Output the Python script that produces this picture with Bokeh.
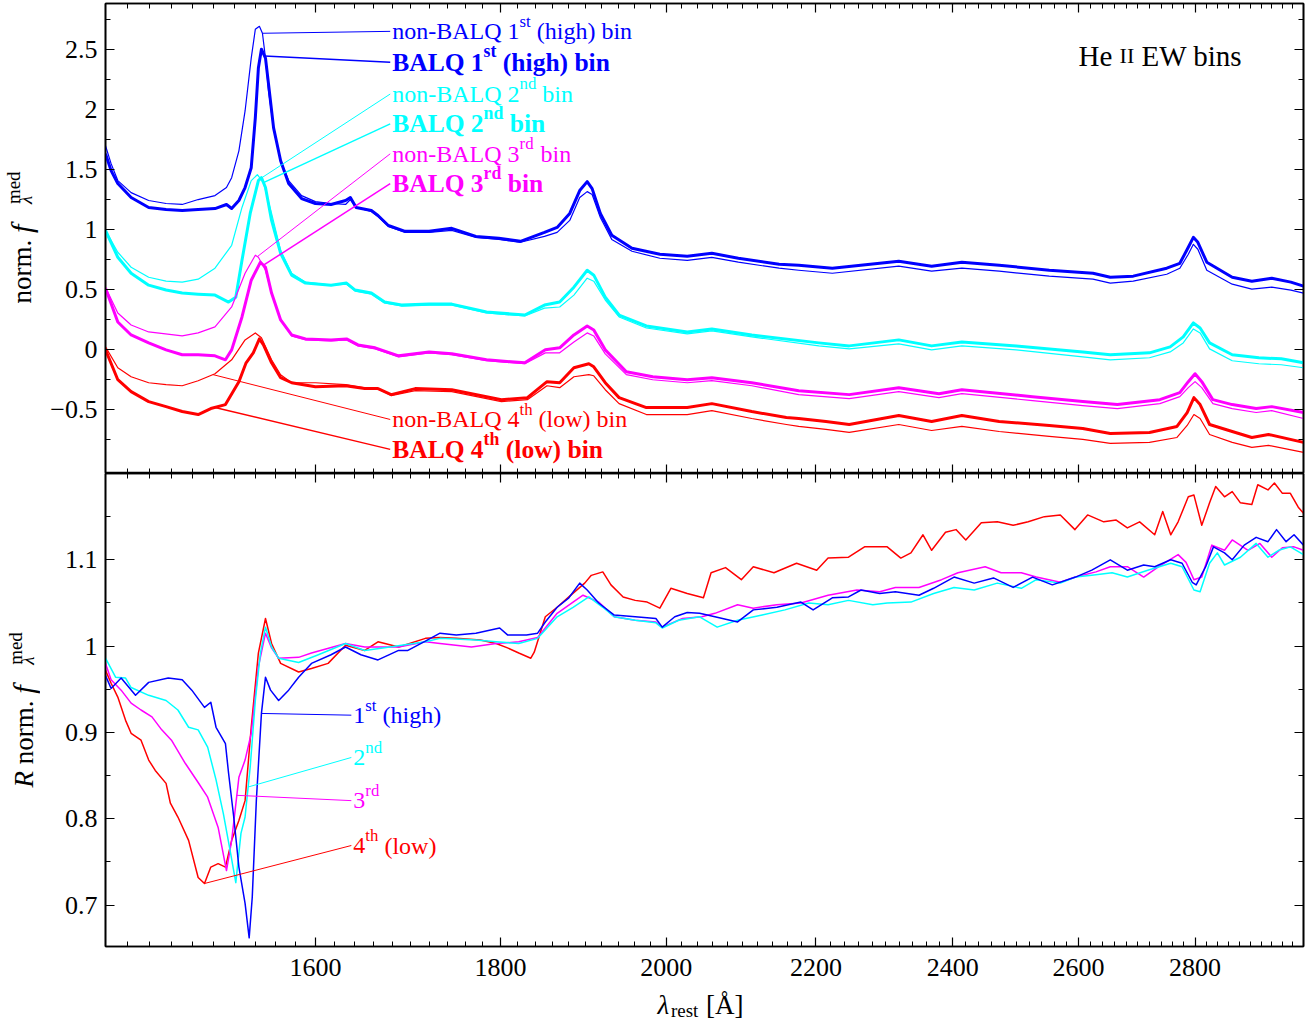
import math
import numpy as np
from bokeh.plotting import figure
from bokeh.models import Range1d, FixedTicker, LinearAxis, LogAxis, Label
from bokeh.layouts import column, row
from bokeh.embed import file_html
from bokeh.resources import INLINE

# ---------------------------------------------------------------------------
# Median composite spectra in four He II EW bins (upper panel, offset for
# clarity) and BALQ / non-BALQ ratio spectra (lower panel).
# ---------------------------------------------------------------------------

# upper panel: 1st (high) bin
wave_nb1 = [1400, 1405, 1411, 1423, 1439, 1455, 1470, 1476, 1485, 1501, 1512, 1517, 1524, 1530, 1536,
            1540, 1544, 1547, 1550, 1553, 1558, 1565, 1573, 1586, 1600, 1616, 1631, 1636, 1642, 1658,
            1665, 1676, 1694, 1720, 1745, 1772, 1798, 1823, 1851, 1866, 1881, 1893, 1902, 1908, 1918,
            1932, 1957, 1992, 2027, 2059, 2094, 2149, 2176, 2223, 2319, 2368, 2414, 2472, 2552, 2624,
            2653, 2692, 2750, 2773, 2788, 2797, 2805, 2821, 2867, 2903, 2940, 2976, 3000]
flux_nb1 = [1.700, 1.551, 1.410, 1.310, 1.244, 1.219, 1.211, 1.227, 1.252, 1.285, 1.352, 1.434, 1.658, 1.990, 2.430,
            2.670, 2.695, 2.637, 2.430, 2.156, 1.849, 1.575, 1.410, 1.285, 1.235, 1.219, 1.211, 1.252, 1.186, 1.153,
            1.111, 1.028, 0.978, 0.978, 0.995, 0.937, 0.920, 0.896, 0.945, 0.978, 1.078, 1.269, 1.318, 1.294, 1.103,
            0.920, 0.821, 0.763, 0.746, 0.771, 0.730, 0.680, 0.663, 0.638, 0.697, 0.655, 0.680, 0.655, 0.614, 0.589,
            0.556, 0.572, 0.630, 0.680, 0.796, 0.879, 0.838, 0.663, 0.547, 0.506, 0.522, 0.498, 0.473]
wave_b1 = [1400, 1405, 1411, 1423, 1439, 1455, 1470, 1485, 1501, 1512, 1517, 1524, 1530, 1536, 1540,
           1543, 1546, 1550, 1553, 1558, 1565, 1573, 1586, 1600, 1616, 1631, 1636, 1642, 1658, 1665,
           1676, 1694, 1720, 1745, 1772, 1798, 1823, 1851, 1866, 1881, 1893, 1902, 1908, 1918, 1932,
           1957, 1992, 2027, 2059, 2094, 2149, 2176, 2223, 2319, 2368, 2414, 2472, 2552, 2624, 2653,
           2692, 2750, 2773, 2788, 2797, 2805, 2821, 2867, 2903, 2940, 2976, 3000]
flux_b1 = [1.633, 1.493, 1.385, 1.269, 1.186, 1.169, 1.161, 1.169, 1.177, 1.211, 1.177, 1.244, 1.352, 1.517, 1.932,
           2.347, 2.504, 2.430, 2.214, 1.849, 1.575, 1.385, 1.260, 1.219, 1.211, 1.244, 1.269, 1.186, 1.161, 1.119,
           1.036, 0.987, 0.987, 1.012, 0.945, 0.929, 0.904, 0.978, 1.020, 1.136, 1.327, 1.401, 1.343, 1.136, 0.954,
           0.846, 0.796, 0.779, 0.804, 0.763, 0.713, 0.705, 0.680, 0.738, 0.697, 0.730, 0.705, 0.663, 0.638, 0.605,
           0.614, 0.680, 0.721, 0.854, 0.937, 0.896, 0.730, 0.605, 0.572, 0.597, 0.564, 0.531]

# upper panel: 2nd bin
wave_nb2 = [1400, 1411, 1423, 1439, 1455, 1470, 1485, 1501, 1517, 1527, 1536, 1542, 1548, 1556, 1565,
            1576, 1590, 1616, 1632, 1641, 1658, 1672, 1690, 1720, 1745, 1784, 1828, 1851, 1869, 1886,
            1902, 1910, 1924, 1941, 1975, 2027, 2059, 2112, 2204, 2247, 2319, 2368, 2414, 2499, 2607,
            2653, 2720, 2756, 2779, 2797, 2809, 2826, 2867, 2916, 2958, 3000]
flux_nb2 = [0.995, 0.813, 0.688, 0.605, 0.572, 0.564, 0.589, 0.680, 0.871, 1.186, 1.410, 1.459, 1.393, 1.136, 0.829,
            0.638, 0.564, 0.539, 0.547, 0.489, 0.464, 0.390, 0.365, 0.373, 0.373, 0.307, 0.282, 0.348, 0.357, 0.456,
            0.597, 0.572, 0.415, 0.274, 0.182, 0.133, 0.158, 0.108, 0.033, 0.008, 0.050, 0.000, 0.033, 0.000, -0.058,
            -0.083, -0.066, -0.017, 0.058, 0.174, 0.141, 0.008, -0.091, -0.116, -0.124, -0.149]
wave_b2 = [1400, 1411, 1423, 1439, 1455, 1470, 1485, 1501, 1514, 1521, 1527, 1535, 1543, 1546, 1550,
           1556, 1565, 1576, 1590, 1616, 1632, 1641, 1658, 1672, 1690, 1720, 1745, 1784, 1828, 1851,
           1869, 1886, 1902, 1910, 1924, 1941, 1975, 2027, 2059, 2112, 2204, 2247, 2319, 2368, 2414,
           2499, 2607, 2653, 2720, 2756, 2779, 2797, 2809, 2826, 2867, 2916, 2958, 3000]
flux_b2 = [0.995, 0.771, 0.638, 0.539, 0.498, 0.473, 0.464, 0.456, 0.398, 0.439, 0.746, 1.136, 1.410, 1.434, 1.352,
           1.078, 0.804, 0.622, 0.556, 0.539, 0.556, 0.498, 0.473, 0.398, 0.373, 0.381, 0.381, 0.315, 0.290, 0.373,
           0.398, 0.522, 0.663, 0.622, 0.439, 0.290, 0.199, 0.149, 0.174, 0.124, 0.058, 0.033, 0.083, 0.033, 0.066,
           0.033, -0.017, -0.041, -0.025, 0.025, 0.108, 0.224, 0.182, 0.058, -0.041, -0.066, -0.075, -0.108]

# upper panel: 3rd bin
wave_nb3 = [1400, 1411, 1423, 1439, 1470, 1485, 1501, 1517, 1530, 1540, 1543, 1550, 1556, 1565, 1576,
            1590, 1616, 1632, 1644, 1662, 1687, 1720, 1745, 1784, 1828, 1852, 1869, 1886, 1902, 1910,
            1924, 1950, 1983, 2027, 2059, 2112, 2176, 2247, 2319, 2379, 2414, 2525, 2607, 2665, 2738,
            2773, 2788, 2800, 2812, 2832, 2867, 2911, 2940, 3000]
flux_nb3 = [0.522, 0.307, 0.207, 0.149, 0.116, 0.141, 0.191, 0.357, 0.638, 0.788, 0.771, 0.663, 0.473, 0.249, 0.116,
            0.083, 0.075, 0.083, 0.033, 0.008, -0.058, -0.025, -0.041, -0.091, -0.116, -0.025, -0.025, 0.066, 0.141, 0.116,
            -0.033, -0.207, -0.249, -0.274, -0.257, -0.299, -0.373, -0.406, -0.348, -0.398, -0.365, -0.423, -0.464, -0.489, -0.448,
            -0.390, -0.315, -0.265, -0.315, -0.448, -0.489, -0.522, -0.506, -0.572]
wave_b3 = [1400, 1411, 1423, 1439, 1455, 1470, 1485, 1501, 1511, 1517, 1527, 1536, 1545, 1550, 1556,
           1565, 1576, 1590, 1616, 1632, 1644, 1662, 1687, 1720, 1745, 1784, 1828, 1852, 1869, 1886,
           1902, 1910, 1924, 1950, 1983, 2027, 2059, 2112, 2176, 2247, 2319, 2379, 2414, 2525, 2607,
           2665, 2738, 2773, 2788, 2800, 2812, 2832, 2867, 2911, 2940, 3000]
flux_b3 = [0.514, 0.232, 0.124, 0.058, 0.000, -0.041, -0.041, -0.050, -0.083, 0.000, 0.274, 0.580, 0.730, 0.688, 0.473,
           0.249, 0.124, 0.091, 0.083, 0.091, 0.041, 0.017, -0.050, -0.017, -0.033, -0.083, -0.108, 0.000, 0.017, 0.124,
           0.199, 0.166, 0.000, -0.182, -0.224, -0.249, -0.232, -0.274, -0.340, -0.373, -0.315, -0.365, -0.332, -0.390, -0.431,
           -0.456, -0.415, -0.357, -0.265, -0.199, -0.265, -0.415, -0.456, -0.489, -0.473, -0.522]

# upper panel: 4th (low) bin
wave_nb4 = [1400, 1411, 1423, 1439, 1455, 1470, 1485, 1501, 1517, 1530, 1540, 1546, 1556, 1565, 1576,
            1600, 1631, 1651, 1665, 1679, 1705, 1745, 1784, 1801, 1831, 1854, 1869, 1886, 1904, 1910,
            1924, 1941, 1975, 2027, 2059, 2112, 2159, 2176, 2214, 2247, 2319, 2368, 2414, 2472, 2552,
            2607, 2653, 2720, 2768, 2786, 2798, 2809, 2826, 2867, 2903, 2934, 3000]
flux_nb4 = [0.025, -0.149, -0.224, -0.274, -0.290, -0.299, -0.257, -0.199, -0.083, 0.083, 0.141, 0.100, -0.083, -0.207, -0.274,
            -0.274, -0.290, -0.315, -0.323, -0.381, -0.340, -0.348, -0.406, -0.431, -0.415, -0.299, -0.315, -0.224, -0.207, -0.216,
            -0.332, -0.448, -0.539, -0.539, -0.506, -0.572, -0.622, -0.638, -0.663, -0.688, -0.622, -0.672, -0.638, -0.680, -0.721,
            -0.746, -0.779, -0.771, -0.730, -0.630, -0.539, -0.572, -0.705, -0.771, -0.813, -0.796, -0.854]
wave_b4 = [1400, 1411, 1423, 1439, 1455, 1470, 1485, 1497, 1511, 1524, 1531, 1538, 1544, 1548, 1556,
           1565, 1576, 1600, 1631, 1651, 1665, 1679, 1705, 1745, 1784, 1801, 1831, 1854, 1869, 1886,
           1904, 1910, 1924, 1941, 1975, 2027, 2059, 2112, 2159, 2176, 2214, 2247, 2319, 2368, 2414,
           2472, 2552, 2607, 2653, 2720, 2768, 2786, 2798, 2809, 2826, 2867, 2903, 2934, 3000]
flux_b4 = [0.000, -0.249, -0.348, -0.431, -0.473, -0.514, -0.539, -0.489, -0.456, -0.265, -0.108, -0.025, 0.091, 0.041, -0.108,
           -0.232, -0.274, -0.307, -0.299, -0.323, -0.323, -0.373, -0.323, -0.332, -0.390, -0.415, -0.398, -0.265, -0.274, -0.149,
           -0.116, -0.141, -0.274, -0.398, -0.481, -0.481, -0.448, -0.514, -0.564, -0.572, -0.597, -0.622, -0.547, -0.597, -0.547,
           -0.597, -0.630, -0.655, -0.697, -0.688, -0.638, -0.522, -0.398, -0.456, -0.622, -0.680, -0.730, -0.705, -0.771]

# lower panel: ratio spectra per bin
wave_r1 = [1400, 1405, 1414, 1427, 1439, 1457, 1470, 1479, 1491, 1497, 1502, 1511, 1514, 1519, 1524,
           1530, 1534, 1537, 1541, 1546, 1550, 1555, 1563, 1573, 1583, 1596, 1616, 1631, 1647, 1665,
           1687, 1697, 1718, 1732, 1750, 1772, 1799, 1808, 1830, 1843, 1852, 1866, 1880, 1893, 1902,
           1916, 1935, 1961, 1987, 1995, 2011, 2027, 2043, 2063, 2093, 2114, 2146, 2179, 2196, 2223,
           2246, 2264, 2291, 2314, 2349, 2371, 2402, 2433, 2463, 2494, 2525, 2557, 2595, 2622, 2653,
           2682, 2710, 2729, 2757, 2777, 2795, 2802, 2819, 2833, 2853, 2867, 2889, 2911, 2933, 2949,
           2967, 2982, 3000]
ratio_r1 = [0.966, 0.951, 0.963, 0.943, 0.958, 0.963, 0.961, 0.949, 0.929, 0.935, 0.906, 0.887, 0.853, 0.802, 0.744,
            0.702, 0.662, 0.709, 0.821, 0.922, 0.964, 0.949, 0.937, 0.949, 0.964, 0.980, 0.990, 0.999, 0.990, 0.984,
            0.995, 0.995, 1.007, 1.015, 1.013, 1.015, 1.021, 1.013, 1.013, 1.015, 1.028, 1.045, 1.056, 1.073, 1.065,
            1.050, 1.036, 1.034, 1.032, 1.022, 1.034, 1.039, 1.038, 1.034, 1.028, 1.042, 1.045, 1.051, 1.042, 1.056,
            1.057, 1.065, 1.061, 1.063, 1.059, 1.067, 1.080, 1.073, 1.079, 1.068, 1.080, 1.071, 1.080, 1.088, 1.100,
            1.088, 1.094, 1.092, 1.100, 1.096, 1.074, 1.071, 1.092, 1.115, 1.108, 1.100, 1.117, 1.126, 1.121, 1.135,
            1.121, 1.129, 1.117]
wave_r2 = [1400, 1409, 1418, 1423, 1439, 1455, 1466, 1476, 1485, 1494, 1502, 1509, 1516, 1521, 1526,
           1530, 1535, 1540, 1545, 1550, 1556, 1563, 1583, 1603, 1631, 1651, 1672, 1716, 1732, 1772,
           1795, 1821, 1843, 1866, 1885, 1904, 1921, 1935, 1961, 1987, 1995, 2016, 2043, 2066, 2093,
           2126, 2157, 2190, 2217, 2246, 2281, 2302, 2337, 2371, 2402, 2433, 2469, 2507, 2531, 2570,
           2595, 2622, 2656, 2682, 2717, 2757, 2777, 2798, 2809, 2826, 2840, 2853, 2882, 2911, 2933,
           2953, 2975, 3000]
ratio_r2 = [0.986, 0.964, 0.963, 0.952, 0.943, 0.937, 0.926, 0.906, 0.903, 0.883, 0.845, 0.806, 0.760, 0.726, 0.783,
            0.802, 0.860, 0.937, 0.992, 1.022, 0.999, 0.986, 0.981, 0.990, 1.003, 0.995, 0.998, 1.005, 1.009, 1.007,
            1.005, 1.003, 1.009, 1.034, 1.045, 1.057, 1.045, 1.034, 1.030, 1.027, 1.021, 1.030, 1.034, 1.022, 1.030,
            1.036, 1.042, 1.050, 1.048, 1.053, 1.048, 1.050, 1.051, 1.061, 1.068, 1.065, 1.073, 1.067, 1.077, 1.073,
            1.080, 1.082, 1.085, 1.080, 1.088, 1.096, 1.092, 1.065, 1.063, 1.096, 1.108, 1.094, 1.103, 1.119, 1.103,
            1.111, 1.115, 1.106]
wave_r3 = [1400, 1405, 1414, 1423, 1432, 1442, 1451, 1460, 1473, 1485, 1494, 1504, 1512, 1517, 1524,
           1530, 1536, 1543, 1550, 1556, 1563, 1583, 1596, 1631, 1651, 1687, 1716, 1732, 1767, 1795,
           1821, 1843, 1866, 1885, 1897, 1916, 1935, 1961, 1987, 1995, 2021, 2046, 2063, 2093, 2114,
           2146, 2179, 2217, 2258, 2291, 2314, 2349, 2383, 2408, 2450, 2475, 2507, 2531, 2570, 2595,
           2629, 2653, 2682, 2710, 2736, 2770, 2784, 2798, 2812, 2830, 2853, 2867, 2896, 2918, 2940,
           2960, 2982, 3000]
ratio_r3 = [0.980, 0.961, 0.949, 0.934, 0.926, 0.918, 0.903, 0.891, 0.864, 0.842, 0.825, 0.790, 0.740, 0.775, 0.848,
            0.868, 0.899, 0.976, 1.015, 0.998, 0.986, 0.987, 0.992, 1.003, 0.999, 0.999, 1.005, 1.003, 0.999, 1.003,
            1.005, 1.010, 1.038, 1.051, 1.059, 1.051, 1.034, 1.030, 1.028, 1.022, 1.032, 1.034, 1.038, 1.048, 1.044,
            1.048, 1.050, 1.059, 1.065, 1.063, 1.068, 1.068, 1.077, 1.085, 1.092, 1.085, 1.085, 1.080, 1.074, 1.080,
            1.086, 1.092, 1.092, 1.080, 1.092, 1.106, 1.097, 1.077, 1.080, 1.117, 1.111, 1.123, 1.111, 1.119, 1.103,
            1.114, 1.115, 1.111]
wave_r4 = [1400, 1405, 1411, 1418, 1423, 1432, 1439, 1445, 1455, 1459, 1466, 1476, 1485, 1491, 1497,
           1504, 1511, 1517, 1524, 1530, 1536, 1543, 1550, 1556, 1565, 1583, 1596, 1613, 1631, 1651,
           1665, 1687, 1716, 1732, 1750, 1777, 1795, 1808, 1821, 1835, 1839, 1852, 1866, 1880, 1899,
           1907, 1921, 1931, 1946, 1961, 1976, 1992, 2006, 2027, 2048, 2058, 2077, 2098, 2114, 2142,
           2173, 2201, 2217, 2246, 2269, 2302, 2322, 2337, 2355, 2368, 2389, 2405, 2420, 2444, 2469,
           2494, 2518, 2544, 2570, 2594, 2615, 2642, 2663, 2682, 2703, 2729, 2743, 2757, 2770, 2788,
           2798, 2812, 2826, 2837, 2853, 2867, 2882, 2903, 2914, 2933, 2945, 2960, 2975, 2990, 3000]
ratio_r4 = [0.972, 0.957, 0.941, 0.914, 0.899, 0.891, 0.868, 0.856, 0.841, 0.818, 0.802, 0.775, 0.732, 0.725, 0.744,
            0.748, 0.744, 0.775, 0.798, 0.821, 0.906, 0.992, 1.032, 1.003, 0.980, 0.970, 0.974, 0.980, 1.001, 0.995,
            1.005, 0.999, 1.009, 1.010, 1.009, 1.007, 1.003, 0.998, 0.992, 0.986, 0.993, 1.034, 1.045, 1.057, 1.073,
            1.082, 1.086, 1.071, 1.057, 1.053, 1.051, 1.044, 1.067, 1.061, 1.056, 1.085, 1.091, 1.077, 1.092, 1.085,
            1.096, 1.088, 1.102, 1.103, 1.115, 1.115, 1.102, 1.108, 1.129, 1.111, 1.132, 1.135, 1.123, 1.143, 1.144,
            1.140, 1.144, 1.150, 1.152, 1.135, 1.152, 1.144, 1.146, 1.137, 1.144, 1.129, 1.156, 1.129, 1.144, 1.173,
            1.175, 1.140, 1.166, 1.185, 1.173, 1.179, 1.166, 1.164, 1.187, 1.181, 1.189, 1.177, 1.177, 1.161, 1.154]

# axes
x_ticks = [1600, 1800, 2000, 2200, 2400, 2600, 2800]
x_tick_labels = ["1600", "1800", "2000", "2200", "2400", "2600", "2800"]
x_minor = list(range(1400, 3001, 20))
top_ticks = [-0.5, 0, 0.5, 1, 1.5, 2, 2.5]
top_tick_labels = ["\u22120.5", "0", "0.5", "1", "1.5", "2", "2.5"]
top_minor = [-0.75, -0.25, 0.25, 0.75, 1.25, 1.75, 2.25, 2.75]
bot_ticks = [0.7, 0.8, 0.9, 1.0, 1.1]
bot_tick_labels = ["0.7", "0.8", "0.9", "1", "1.1"]
bot_minor = [0.75, 0.85, 0.95, 1.05, 1.15]

BLUE, CYAN, MAGENTA, RED = "#0000ff", "#00ffff", "#ff00ff", "#ff0000"
SERIF = "Liberation Serif"
BASE_FIX = 7.0  # shift that puts the alphabetic baseline where it is asked for

# glyph advance widths (per 1000 em) for the serif face, used to chain text pieces
W_REG = {" ": 250, "(": 333, ")": 333, "-": 333, ".": 250, "[": 333, "]": 333, "A": 722, "B": 667,
         "E": 611, "H": 722, "I": 333, "L": 611, "Q": 722, "R": 611, "W": 944, "a": 444, "b": 500,
         "d": 500, "e": 444, "f": 278, "g": 500, "h": 500, "i": 278, "l": 278, "m": 722, "n": 500,
         "o": 500, "r": 389, "s": 389, "t": 278, "w": 667, "\u00c5": 722, "\u03bb": 500}
W_BOLD = {" ": 250, "(": 333, ")": 333, "A": 722, "B": 667, "L": 667, "Q": 778, "b": 556, "d": 556,
          "g": 500, "h": 556, "i": 278, "l": 278, "n": 556, "o": 500, "r": 444, "s": 389, "t": 333, "w": 722}


def text_px(s, size, bold=False):
    table = W_BOLD if bold else W_REG
    return sum(table.get(c, 500) for c in s) * size / 1000.0


def rich(fig, x, y, parts, color, size, bold=False, angle=0.0, units="data", dy0=0.0, dx0=0.0):
    """Chain text pieces (normal / italic / sub / sup / small caps) into one label.

    A role is a comma separated set of flags; "adv=N" forces the advance of a piece,
    "rise=N" its shift off the baseline and "scale=N" its size relative to the base.
    """
    adv = dx0
    for text, role in parts:
        flags = set()
        forced_adv, forced_rise, scale = None, None, 1.0
        for flag in role.split(","):
            if flag.startswith("adv="):
                forced_adv = float(flag[4:])
            elif flag.startswith("rise="):
                forced_rise = float(flag[5:])
            elif flag.startswith("scale="):
                scale = float(flag[6:])
            else:
                flags.add(flag)
        fs, rise = size * scale, 0.0
        if "sup" in flags:
            fs, rise = 0.7 * size, 0.42 * size
        if "sub" in flags:
            fs, rise = 0.7 * size, -0.24 * size
        if "sc" in flags:
            fs = 0.76 * size
        if forced_rise is not None:
            rise = forced_rise
        style = "bold" if bold else "normal"
        if "it" in flags:
            style = "bold italic" if bold else "italic"
        lead = len(text) - len(text.lstrip(" "))
        adv += text_px(" " * lead, fs, bold)
        body = text.lstrip(" ")
        up = rise + dy0 + BASE_FIX
        if angle:
            xo, yo = -up, adv
        else:
            xo, yo = adv, up
        fig.add_layout(Label(x=x, y=y, x_units=units, y_units=units, text=body,
                             x_offset=xo, y_offset=yo, angle=angle,
                             text_font=SERIF, text_font_size=f"{fs:.1f}px",
                             text_font_style=style, text_color=color,
                             text_baseline="alphabetic", text_align="left"))
        if "stay" not in flags:
            adv += forced_adv if forced_adv is not None else text_px(body, fs, bold)


def styled_axis(ax, labels=None, standoff=8):
    ax.axis_line_color = "black"
    ax.axis_line_width = 1.6
    ax.major_tick_in, ax.major_tick_out = 9, 0
    ax.minor_tick_in, ax.minor_tick_out = 5, 0
    ax.major_tick_line_color = ax.minor_tick_line_color = "black"
    ax.major_tick_line_width = 1.2
    ax.minor_tick_line_width = 1.0
    ticks = ax.ticker.ticks
    if labels is None:
        ax.major_label_overrides = {t: "" for t in ticks}
        ax.major_label_text_font_size = "0px"
        ax.major_label_standoff = 0
    else:
        ax.major_label_overrides = dict(zip(ticks, labels))
        ax.major_label_text_font = SERIF
        ax.major_label_text_font_size = "26px"
        ax.major_label_text_color = "black"
        ax.major_label_standoff = standoff
    return ax


def blank(width, height):
    """An axis-free canvas used for the titles that sit outside the panels."""
    p = figure(width=width, height=height, x_range=Range1d(0, 1), y_range=Range1d(0, 1),
               x_axis_location=None, y_axis_location=None, output_backend="svg",
               toolbar_location=None, min_border=0)
    p.outline_line_color = None
    p.xgrid.grid_line_color = None
    p.ygrid.grid_line_color = None
    p.background_fill_color = "white"
    p.border_fill_color = "white"
    return p


def panel(height, y_range, y_ticks, y_labels, y_minor, border_top, border_bottom, x_labels):
    p = figure(width=1272, height=height, x_axis_type="log", x_range=Range1d(1400, 3000),
               y_range=Range1d(*y_range), x_axis_location=None, y_axis_location=None,
               output_backend="svg", toolbar_location=None,
               min_border_left=65, min_border_right=9,
               min_border_top=border_top, min_border_bottom=border_bottom)
    p.outline_line_color = "black"
    p.outline_line_width = 1.6
    p.xgrid.grid_line_color = None
    p.ygrid.grid_line_color = None
    p.background_fill_color = "white"
    p.border_fill_color = "white"
    xt = lambda: FixedTicker(ticks=x_ticks, minor_ticks=x_minor)
    yt = lambda: FixedTicker(ticks=y_ticks, minor_ticks=y_minor)
    p.add_layout(styled_axis(LogAxis(ticker=xt()), x_tick_labels if x_labels else None, 12), "below")
    p.add_layout(styled_axis(LogAxis(ticker=xt())), "above")
    p.add_layout(styled_axis(LinearAxis(ticker=yt()), y_labels), "left")
    p.add_layout(styled_axis(LinearAxis(ticker=yt())), "right")
    return p


top = panel(473, (-1.03, 2.885), top_ticks, top_tick_labels, top_minor, 3, 0, False)
bot = panel(510, (0.652, 1.2), bot_ticks, bot_tick_labels, bot_minor, 0, 37, True)
ylab = blank(40, 1028)
xlab = blank(1272, 45)

# upper panel curves: thin = non-BALQ, thick = BALQ
top_series = [
    (wave_nb1, flux_nb1, wave_b1, flux_b1, BLUE),
    (wave_nb2, flux_nb2, wave_b2, flux_b2, CYAN),
    (wave_nb3, flux_nb3, wave_b3, flux_b3, MAGENTA),
    (wave_nb4, flux_nb4, wave_b4, flux_b4, RED),
]
for wn, fn, wb, fb, col in top_series:
    top.line(wn, fn, line_color=col, line_width=1.2, line_join="round")
    top.line(wb, fb, line_color=col, line_width=3.0, line_join="round")

# leader lines and labels for the upper panel
LABEL_X_TOP = 1678
top_callouts = [
    (wave_nb1, flux_nb1, 1547, 2.653, BLUE, "non-BALQ 1", "st", " (high) bin", False),
    (wave_b1, flux_b1, 1549, 2.396, BLUE, "BALQ 1", "st", " (high) bin", True),
    (wave_nb2, flux_nb2, 1545, 2.131, CYAN, "non-BALQ 2", "nd", " bin", False),
    (wave_b2, flux_b2, 1548, 1.882, CYAN, "BALQ 2", "nd", " bin", True),
    (wave_nb3, flux_nb3, 1542, 1.633, MAGENTA, "non-BALQ 3", "rd", " bin", False),
    (wave_b3, flux_b3, 1548, 1.385, MAGENTA, "BALQ 3", "rd", " bin", True),
    (wave_nb4, flux_nb4, 1499, -0.580, RED, "non-BALQ 4", "th", " (low) bin", False),
    (wave_b4, flux_b4, 1501, -0.829, RED, "BALQ 4", "th", " (low) bin", True),
]
for w, f, attach, ly, col, pre, sup, post, bold in top_callouts:
    y0 = float(np.interp(attach, w, f))
    top.line([attach, LABEL_X_TOP], [y0, ly], line_color=col, line_width=1.5 if bold else 1.0)
    rich(top, LABEL_X_TOP, ly, [(pre, "n"), (sup, "sup"), (post, "n")], col,
         25.5 if bold else 24, bold=bold, dy0=-7, dx0=2)

# lower panel curves
for w, r, col in [(wave_r4, ratio_r4, RED), (wave_r3, ratio_r3, MAGENTA),
                  (wave_r2, ratio_r2, CYAN), (wave_r1, ratio_r1, BLUE)]:
    bot.line(w, r, line_color=col, line_width=1.5, line_join="round")

LABEL_X_BOT = 1637
bot_callouts = [
    (wave_r1, ratio_r1, 1546, 0.920, BLUE, "1", "st", " (high)"),
    (wave_r2, ratio_r2, 1533, 0.871, CYAN, "2", "nd", ""),
    (wave_r3, ratio_r3, 1522, 0.821, MAGENTA, "3", "rd", ""),
    (wave_r4, ratio_r4, 1491, 0.769, RED, "4", "th", " (low)"),
]
for w, r, attach, ly, col, pre, sup, post in bot_callouts:
    y0 = float(np.interp(attach, w, r))
    bot.line([attach, LABEL_X_BOT], [y0, ly], line_color=col, line_width=1.0)
    parts = [(pre, "n"), (sup, "sup")]
    if post:
        parts.append((post, "n"))
    rich(bot, LABEL_X_BOT, ly, parts, col, 24, dy0=-7, dx0=2)

# panel title
rich(top, 973, 411, [("He ", "n"), ("II", "sc"), (" EW bins", "n")], "black", 29, units="screen")

# axis titles
f_piece = ("f", "it,scale=1.12,adv=29")
lam_piece = ("\u03bb", "sub,it,stay,rise=-4")
med_piece = ("med", "sup,rise=8")
rich(ylab, 28, 725, [("norm. ", "n"), f_piece, lam_piece, med_piece],
     "black", 27, angle=math.pi / 2, units="screen")
rich(ylab, 30, 241, [("R", "it"), (" norm. ", "n"), f_piece, lam_piece, med_piece],
     "black", 27, angle=math.pi / 2, units="screen")
rich(xlab, 552, 17, [("\u03bb", "it"), ("rest", "sub"), (" [\u00c5]", "n")], "black", 27, units="screen")

layout = row(ylab, column(top, bot, xlab, spacing=0), spacing=0)
open("out.html", "w").write(file_html(layout, INLINE))
